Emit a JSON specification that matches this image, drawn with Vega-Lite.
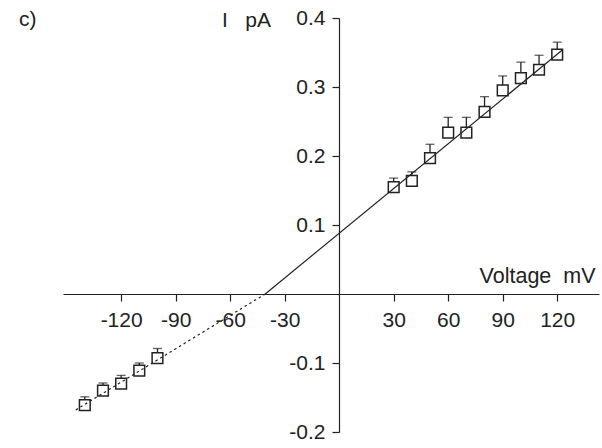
{
  "$schema": "https://vega.github.io/schema/vega-lite/v6.json",
  "width": 536,
  "height": 414,
  "autosize": {"type": "none"},
  "padding": {"left": 63, "top": 18, "right": 3, "bottom": 16},
  "background": "white",
  "config": {"view": {"stroke": null}, "font": "Liberation Sans"},
  "title": {"text": "c)", "anchor": "start", "frame": "group", "dx": -44, "dy": 40, "offset": 0, "baseline": "alphabetic", "fontSize": 21, "fontWeight": "normal", "color": "#222"},
  "datasets": {
    "pts": [
      {"V": -140, "I": -0.161, "U": -0.149},
      {"V": -130, "I": -0.140, "U": -0.129},
      {"V": -120, "I": -0.130, "U": -0.118},
      {"V": -110, "I": -0.111, "U": -0.100},
      {"V": -100, "I": -0.093, "U": -0.079},
      {"V": 30, "I": 0.155, "U": 0.168},
      {"V": 40, "I": 0.164, "U": 0.177},
      {"V": 50, "I": 0.197, "U": 0.217},
      {"V": 60, "I": 0.234, "U": 0.256},
      {"V": 70, "I": 0.234, "U": 0.256},
      {"V": 80, "I": 0.264, "U": 0.286},
      {"V": 90, "I": 0.295, "U": 0.316},
      {"V": 100, "I": 0.313, "U": 0.336},
      {"V": 110, "I": 0.325, "U": 0.346},
      {"V": 120, "I": 0.347, "U": 0.365}
    ],
    "solid": [
      {"V": -40.7, "I": 0},
      {"V": 123, "I": 0.354}
    ],
    "dotted": [
      {"V": -145, "I": -0.168},
      {"V": -40.7, "I": 0}
    ]
  },
  "encoding": {
    "x": {
      "field": "V", "type": "quantitative",
      "scale": {"domain": [-152, 143], "nice": false, "zero": false},
      "axis": {
        "values": [-120, -90, -60, -30, 30, 60, 90, 120],
        "offset": -138,
        "grid": false,
        "title": "Voltage\u00a0\u00a0mV",
        "titleX": 532, "titleY": -12, "titleAlign": "right", "titleBaseline": "alphabetic",
        "titleFontSize": 21.5, "titleFontWeight": "normal", "titleColor": "#222",
        "labelFontSize": 21, "labelColor": "#222", "labelPadding": 8,
        "labelExpr": "replace(datum.label, '\u2212', '-')",
        "labelFlush": false, "labelOverlap": false,
        "tickSize": 7, "tickColor": "#222", "tickWidth": 1.2,
        "domainColor": "#222", "domainWidth": 1.2
      }
    },
    "y": {
      "field": "I", "type": "quantitative",
      "scale": {"domain": [-0.2, 0.4], "nice": false, "zero": false},
      "axis": {
        "values": [-0.2, -0.1, 0.1, 0.2, 0.3, 0.4],
        "offset": -276,
        "grid": false,
        "format": ".1f",
        "labelExpr": "replace(datum.label, '\u2212', '-')",
        "title": "I\u00a0\u00a0\u00a0pA",
        "titleAngle": 0, "titleX": -93, "titleY": 2, "titleAlign": "center", "titleBaseline": "middle",
        "titleFontSize": 21, "titleFontWeight": "normal", "titleColor": "#222",
        "labelFontSize": 21, "labelColor": "#222", "labelPadding": 7,
        "labelFlush": false, "labelOverlap": false,
        "tickSize": 7, "tickColor": "#222", "tickWidth": 1.2,
        "domainColor": "#222", "domainWidth": 1.2
      }
    }
  },
  "layer": [
    {
      "data": {"name": "pts"},
      "mark": {"type": "rule", "color": "#222", "strokeWidth": 1.3},
      "encoding": {"y2": {"field": "U"}}
    },
    {
      "data": {"name": "pts"},
      "mark": {"type": "tick", "orient": "horizontal", "size": 9, "thickness": 1.3, "color": "#222"},
      "encoding": {"y": {"field": "U", "type": "quantitative"}}
    },
    {
      "data": {"name": "pts"},
      "mark": {"type": "point", "shape": "square", "size": 115, "filled": false, "fill": "white", "fillOpacity": 1, "stroke": "#222", "strokeWidth": 1.5, "opacity": 1}
    },
    {
      "data": {"name": "solid"},
      "mark": {"type": "line", "color": "#222", "strokeWidth": 1.2}
    },
    {
      "data": {"name": "dotted"},
      "mark": {"type": "line", "color": "#222", "strokeWidth": 1.2, "strokeDash": [2.5, 3]}
    }
  ]
}
